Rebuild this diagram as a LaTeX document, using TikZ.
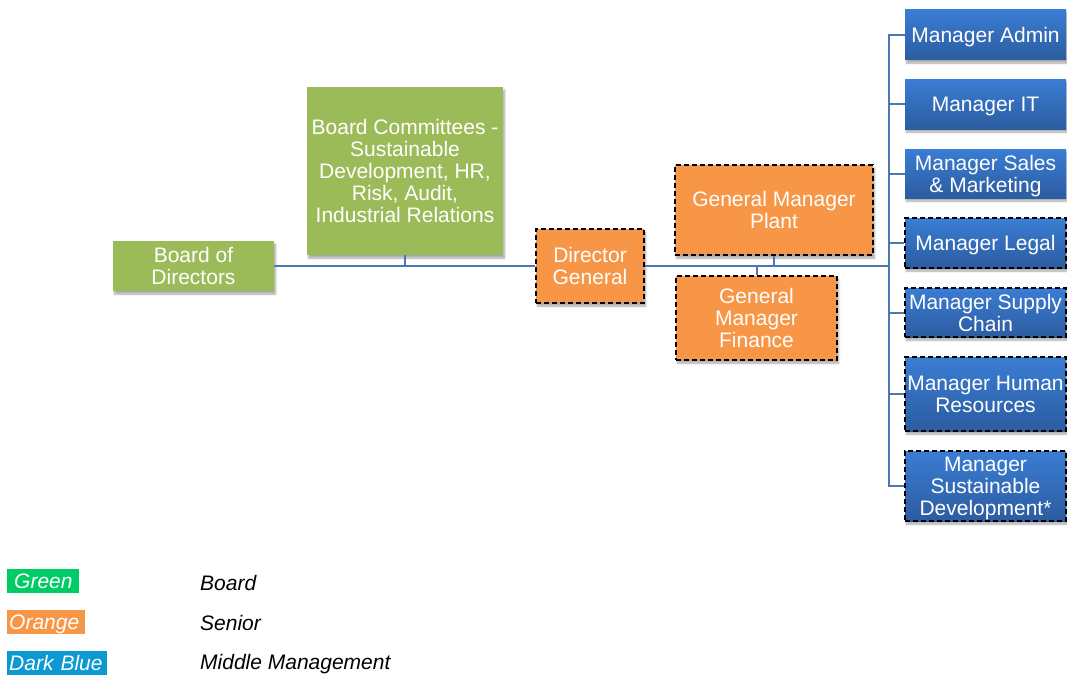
\documentclass[tikz,border=0pt]{standalone}
\usepackage{fontspec}
\setmainfont{Liberation Sans}
\usetikzlibrary{shadows.blur}
\definecolor{boardgreen}{RGB}{155,187,89}
\definecolor{senior}{RGB}{247,150,70}
\definecolor{midtop}{RGB}{58,125,212}
\definecolor{midbot}{RGB}{44,92,160}
\definecolor{linkblue}{RGB}{74,120,176}
\definecolor{legendgreen}{RGB}{0,204,102}
\definecolor{legendblue}{RGB}{12,152,208}

\begin{document}
\begin{tikzpicture}[x=1pt,y=-1pt,
  unit/.style={rectangle, inner sep=0pt, align=center, text=white, text depth=0pt,
    font=\fontsize{21}{22}\selectfont,
    blur shadow={shadow xshift=1.5pt, shadow yshift=-3pt, shadow opacity=35, shadow blur steps=6}},
  board/.style={unit, fill=boardgreen},
  seniorbox/.style={unit, fill=senior, draw=black, line width=1.8pt, dash pattern=on 5pt off 3pt},
  midbox/.style={unit, top color=midtop, bottom color=midbot, minimum width=161},
  dashedge/.style={draw=black, line width=1.8pt, dash pattern=on 5pt off 3pt},
  link/.style={draw=linkblue, line width=2pt},
  legendkey/.style={rectangle, anchor=west, minimum height=24, inner ysep=0pt, align=left,
    text height=15pt, text depth=0pt,
    text=white, font=\fontsize{21}{22}\selectfont\itshape},
  legendtext/.style={anchor=west, inner sep=0pt, font=\fontsize{21}{22}\selectfont\itshape}]

\useasboundingbox (0,0) rectangle (1067,677);

% board level
\node[board, minimum width=161, minimum height=50] (bod) at (193.5,266) {Board of\\Directors};
\node[board, minimum width=196, minimum height=168] (bc) at (405,171)
  {Board Committees -\\Sustainable\\Development, HR,\\Risk, Audit,\\Industrial Relations};

% senior level
\node[seniorbox, minimum width=108, minimum height=74] (dg) at (590,266) {Director\\General};
\node[seniorbox, minimum width=198, minimum height=90] (gmp) at (774,210) {General Manager\\Plant};
\node[seniorbox, minimum width=161, minimum height=84] (gmf) at (756.5,318) {General\\Manager\\Finance};

% middle management
\node[midbox, minimum height=50] (madmin) at (985.5,35) {Manager Admin};
\node[midbox, minimum height=50] (mit) at (985.5,104) {Manager IT};
\node[midbox, minimum height=49] (msales) at (985.5,173.5) {Manager Sales\\\& Marketing};
\node[midbox, dashedge, minimum height=50] (mlegal) at (985.5,243) {Manager Legal};
\node[midbox, dashedge, minimum height=49] (msupply) at (985.5,312.5) {Manager Supply\\Chain};
\node[midbox, dashedge, minimum height=74] (mhr) at (985.5,394) {Manager Human\\Resources};
\node[midbox, dashedge, minimum height=70] (msd) at (985.5,486) {Manager\\Sustainable\\Development*};

% connectors
\coordinate (bus) at (889,265);
\draw[link] (bod.east) -- (dg.west);
\draw[link] (bc.south) -- (bc.south |- bod.east);
\draw[link] (dg.east) -- (dg.east -| bus);
\draw[link] (gmp.south) -- (gmp.south |- dg.east);
\draw[link] (gmf.north) -- (gmf.north |- dg.east);
\draw[link] (madmin.west) -- (madmin.west -| bus) -- (msd.west -| bus) -- (msd.west);
\foreach \m in {mit,msales,mlegal,msupply,mhr}
  \draw[link] (\m.west) -- (\m.west -| bus);

% legend
\node[legendkey, fill=legendgreen, inner xsep=7pt, text width=58pt] (kgreen) at (7,581) {Green};
\node[legendkey, fill=senior, inner xsep=2pt, text width=74pt] (korange) at (7,622) {Orange};
\node[legendkey, fill=legendblue, inner xsep=2pt, text width=96pt] (kblue) at (7,663) {Dark Blue};
\node[legendtext] (lboard) at (200,583) {Board};
\node[legendtext] (lsenior) at (200,623) {Senior};
\node[legendtext] (lmiddle) at (200,664) {Middle Management};
\end{tikzpicture}
\end{document}
